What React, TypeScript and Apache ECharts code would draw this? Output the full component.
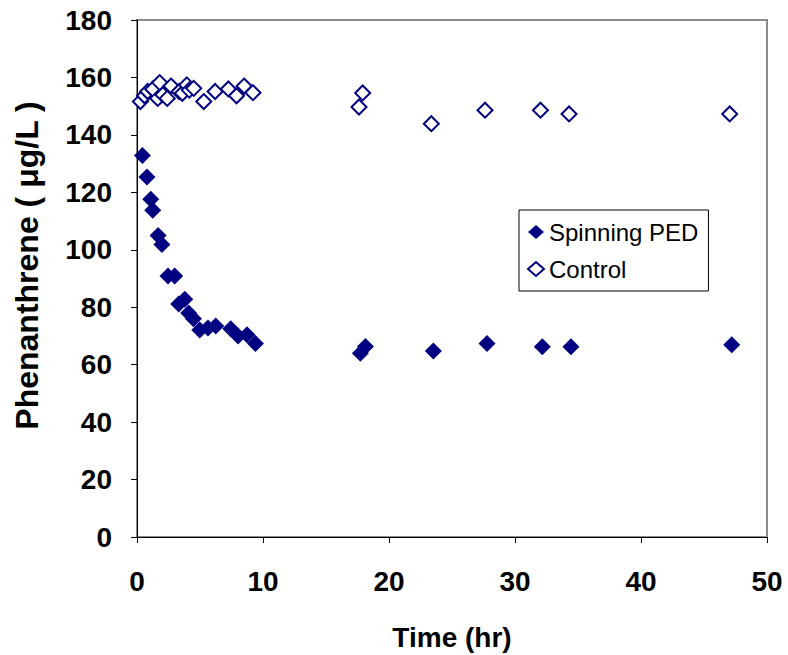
import React, { useEffect, useRef } from "react";
import * as echarts from "echarts";

const pedTime = [0.43, 0.79, 1.09, 1.25, 1.67, 1.98, 2.46, 2.99, 3.31, 3.79, 4.1, 4.48, 4.98, 5.63, 6.25, 7.44, 8.02, 8.73, 9.4, 17.73, 18.13, 23.52, 27.78, 32.17, 34.44, 47.2];
const pedValue = [132.8, 125.3, 117.6, 113.8, 105.0, 101.8, 90.9, 90.9, 81.1, 82.8, 78.0, 76.0, 72.1, 72.8, 73.5, 72.5, 70.0, 70.4, 67.4, 64.0, 66.3, 64.8, 67.4, 66.2, 66.2, 66.9];

const controlTime = [0.27, 0.6, 0.85, 1.25, 1.65, 1.8, 2.05, 2.4, 2.7, 3.35, 3.6, 3.95, 4.15, 4.5, 5.3, 6.2, 7.25, 7.9, 8.5, 9.2, 17.62, 17.91, 23.36, 27.62, 32.02, 34.29, 47.04];
const controlValue = [151.6, 153.6, 155.1, 155.9, 152.7, 158.2, 154.0, 152.7, 157.0, 155.1, 154.5, 157.4, 155.6, 156.2, 151.6, 155.1, 156.0, 153.6, 157.0, 154.7, 149.7, 154.6, 143.9, 148.6, 148.6, 147.3, 147.3];

const seriesNames = ["Spinning PED", "Control"];
const xTitle = "Time (hr)";
const yTitle = "Phenanthrene ( μg/L )";

const FONT = "'Liberation Sans', Arial, sans-serif";
const NAVY = "#000080";

export default function App() {
  const ref = useRef<HTMLDivElement>(null);
  useEffect(() => {
    if (!ref.current) return;
    const chart = echarts.init(ref.current, null, { renderer: "svg" });
    chart.setOption({
      animation: false,
      backgroundColor: "#ffffff",
      grid: {
        left: 137,
        right: 21,
        top: 20,
        bottom: 118,
        outerBoundsMode: "none",
        containLabel: false,
        show: true,
        borderColor: "#8a8a8a",
        borderWidth: 2,
        backgroundColor: "transparent",
      },
      legend: {
        orient: "vertical",
        left: 519,
        top: 210,
        data: seriesNames,
        borderColor: "#000",
        borderWidth: 1,
        padding: [10, 10, 10, 8],
        itemGap: 13,
        itemWidth: 16,
        itemHeight: 14,
        textStyle: { fontFamily: FONT, fontSize: 24, color: "#000" },
      },
      xAxis: {
        type: "value",
        min: 0,
        max: 50,
        interval: 10,
        name: xTitle,
        nameLocation: "middle",
        nameGap: 86,
        nameTextStyle: { fontFamily: FONT, fontSize: 28, fontWeight: "bold", color: "#000" },
        axisLine: { show: true, onZero: false, lineStyle: { color: "#000", width: 1 } },
        axisTick: { show: true, inside: false, length: 6, lineStyle: { color: "#000" } },
        axisLabel: { fontFamily: FONT, fontSize: 28, fontWeight: "bold", color: "#000", margin: 30 },
        splitLine: { show: false },
      },
      yAxis: {
        type: "value",
        min: 0,
        max: 180,
        interval: 20,
        name: yTitle,
        nameLocation: "middle",
        nameGap: 94,
        nameRotate: 90,
        nameTextStyle: {
          fontFamily: FONT,
          fontSize: 32,
          fontWeight: "bold",
          color: "#000",
          padding: [0, 0, 0, 26],
        },
        axisLine: { show: true, onZero: false, lineStyle: { color: "#000", width: 1 } },
        axisTick: { show: true, inside: false, length: 6, lineStyle: { color: "#000" } },
        axisLabel: { fontFamily: FONT, fontSize: 28, fontWeight: "bold", color: "#000", margin: 25 },
        splitLine: { show: false },
      },
      series: [
        {
          name: seriesNames[0],
          type: "scatter",
          symbol: "diamond",
          symbolSize: 17,
          itemStyle: { color: NAVY, opacity: 1 },
          data: pedTime.map((t, i) => [t, pedValue[i]]),
          z: 3,
        },
        {
          name: seriesNames[1],
          type: "scatter",
          symbol: "diamond",
          symbolSize: 15,
          itemStyle: { color: "#ffffff", borderColor: NAVY, borderWidth: 2, opacity: 1 },
          data: controlTime.map((t, i) => [t, controlValue[i]]),
          z: 2,
        },
      ],
    });
    return () => chart.dispose();
  }, []);
  return <div ref={ref} style={{ width: 788, height: 655, position: "absolute", left: 0, top: 0 }} />;
}
